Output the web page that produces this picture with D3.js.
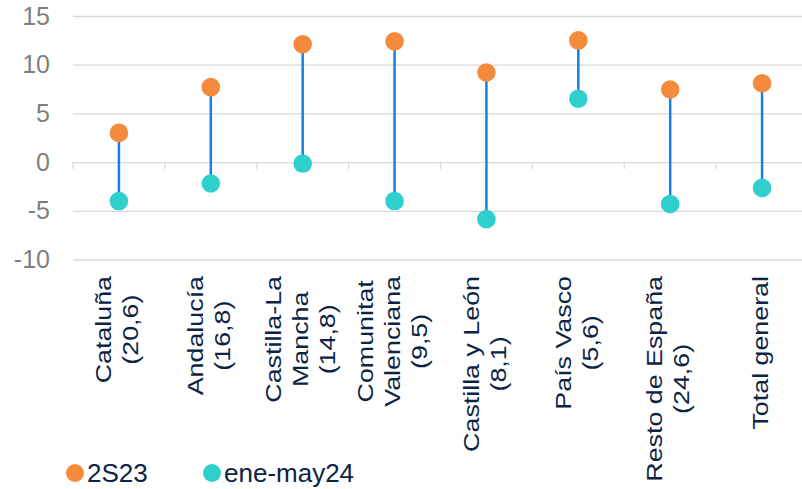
<!DOCTYPE html>
<html>
<head>
<meta charset="utf-8">
<script src="https://cdn.jsdelivr.net/npm/d3@7"></script>
<style>
  body { margin: 0; background: #fff; }
  svg { font-family: "Liberation Sans", Arial, sans-serif; }
</style>
</head>
<body>
<div id="chart"></div>
<script>
// categories, one array of lines per label
var categories = [
	["Cataluña", "(20,6)"],
	["Andalucía", "(16,8)"],
	["Castilla-La", "Mancha", "(14,8)"],
	["Comunitat", "Valenciana", "(9,5)"],
	["Castilla y León", "(8,1)"],
	["País Vasco", "(5,6)"],
	["Resto de España", "(24,6)"],
	["Total general"]
];
var s2S23 = [3.0, 7.7, 12.1, 12.4, 9.2, 12.5, 7.45, 8.1];
var eneMay24 = [-4.0, -2.2, -0.15, -4.0, -5.85, 6.5, -4.3, -2.65];
var yTicks = [-10, -5, 0, 5, 10, 15];
var seriesNames = ["2S23", "ene-may24"];

var width = 802,
	height = 489,
	plotLeft = 73,
	plotRight = 808,
	plotTop = 16,
	plotBottom = 259.5,
	orange = "#f68a3c",
	teal = "#2ecfcd",
	stem = "#1a7fe2",
	grid = "#d9d9d9",
	navy = "#0c2444";

var svg = d3.select("#chart")
	.append("svg")
	.attr("width", width)
	.attr("height", height);

var keys = categories.map(function (d, i) { return i; });

var x = d3.scaleBand()
	.domain(keys)
	.range([plotLeft, plotRight]);

var y = d3.scaleLinear()
	.domain([-10, 15])
	.range([plotBottom, plotTop]);

// y axis with gridlines
var yAxis = svg.append("g")
	.attr("transform", "translate(" + plotLeft + ",0)")
	.call(d3.axisLeft(y)
		.tickValues(yTicks)
		.tickFormat(function (d) { return String(d); })
		.tickSizeInner(-(width - plotLeft))
		.tickSizeOuter(0)
		.tickPadding(23));

yAxis.select(".domain").remove();
yAxis.selectAll(".tick line")
	.attr("stroke", grid)
	.attr("stroke-width", 1.3);
yAxis.selectAll(".tick text")
	.attr("fill", "#7f7f7f")
	.style("font-size", "25px")
	.attr("font-family", "Liberation Sans, Arial, sans-serif");

// small tick marks on the zero line between categories
var bounds = keys.map(function (k) { return x(k); }).concat([x(keys[keys.length - 1]) + x.bandwidth()]);
svg.append("g")
	.selectAll("line")
	.data(bounds)
	.enter()
	.append("line")
	.attr("x1", function (d) { return d; })
	.attr("x2", function (d) { return d; })
	.attr("y1", y(0))
	.attr("y2", y(0) + 7)
	.attr("stroke", grid)
	.attr("stroke-width", 1.3);

// stems
svg.append("g")
	.selectAll("line")
	.data(keys)
	.enter()
	.append("line")
	.attr("x1", function (d) { return x(d) + x.bandwidth() / 2; })
	.attr("x2", function (d) { return x(d) + x.bandwidth() / 2; })
	.attr("y1", function (d) { return y(s2S23[d]); })
	.attr("y2", function (d) { return y(eneMay24[d]); })
	.attr("stroke", stem)
	.attr("stroke-width", 2.5);

// dots
function dots(values, color) {
	svg.append("g")
		.selectAll("circle")
		.data(keys)
		.enter()
		.append("circle")
		.attr("cx", function (d) { return x(d) + x.bandwidth() / 2; })
		.attr("cy", function (d) { return y(values[d]); })
		.attr("r", 9.3)
		.attr("fill", color);
}
dots(eneMay24, teal);
dots(s2S23, orange);

// rotated category labels, lines centred on the longest one
var lineGap = 27,
	stretch = 1.22;

var labels = svg.append("g")
	.selectAll("g")
	.data(keys)
	.enter()
	.append("g")
	.attr("transform", function (d) {
		return "translate(" + (x(d) + x.bandwidth() / 2 - 2) + ",276) rotate(-90) scale(" + stretch + ",1)";
	});

labels.each(function (d) {
	var g = d3.select(this),
		lines = categories[d],
		n = lines.length;

	var texts = g.selectAll("text")
		.data(lines)
		.enter()
		.append("text")
		.attr("fill", navy)
		.style("font-size", "22px")
		.attr("dy", "0.35em")
		.attr("y", function (t, i) { return (i - (n - 1) / 2) * lineGap; })
		.attr("text-anchor", "middle")
		.text(function (t) { return t; });

	var maxLen = 0;
	texts.each(function () { maxLen = Math.max(maxLen, this.getComputedTextLength()); });
	texts.attr("x", -maxLen / 2);
});

// legend
var legend = svg.append("g")
	.attr("transform", "translate(0,473)");

var legendX = [75, 212];
[orange, teal].forEach(function (c, i) {
	legend.append("circle")
		.attr("cx", legendX[i])
		.attr("cy", 0)
		.attr("r", 9)
		.attr("fill", c);
	legend.append("text")
		.attr("x", legendX[i] + 12)
		.attr("y", 0)
		.attr("dy", "0.36em")
		.attr("fill", navy)
		.style("font-size", "26px")
		.text(seriesNames[i]);
});
</script>
</body>
</html>
